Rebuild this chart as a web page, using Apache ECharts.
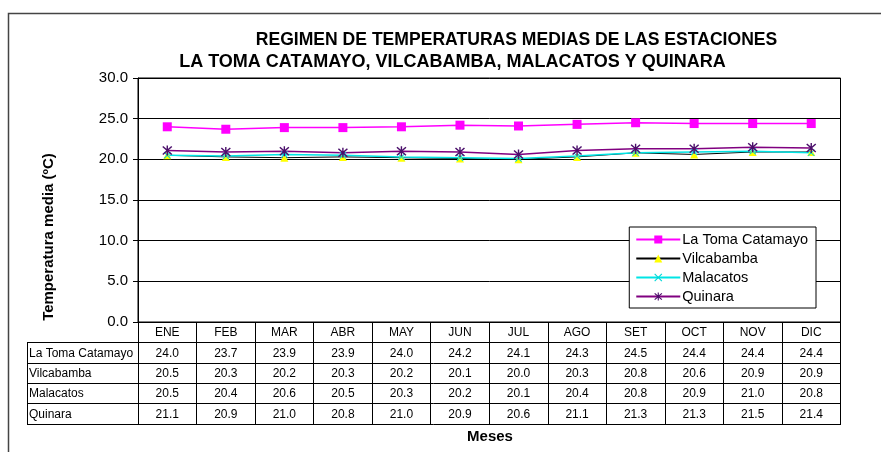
<!DOCTYPE html>
<html><head><meta charset="utf-8">
<script src="https://cdn.jsdelivr.net/npm/echarts@6/dist/echarts.min.js"></script>
<style>html,body{margin:0;padding:0;background:#fff}#c{width:881px;height:452px}</style>
</head><body><div id="c"></div>
<script>
var months = ['ENE','FEB','MAR','ABR','MAY','JUN','JUL','AGO','SET','OCT','NOV','DIC'];
var seriesNames = ['La Toma Catamayo','Vilcabamba','Malacatos','Quinara'];
var laToma     = [24.0,23.7,23.9,23.9,24.0,24.2,24.1,24.3,24.5,24.4,24.4,24.4];
var vilcabamba = [20.5,20.3,20.2,20.3,20.2,20.1,20.0,20.3,20.8,20.6,20.9,20.9];
var malacatos  = [20.5,20.4,20.6,20.5,20.3,20.2,20.1,20.4,20.8,20.9,21.0,20.8];
var quinara    = [21.1,20.9,21.0,20.8,21.0,20.9,20.6,21.1,21.3,21.3,21.5,21.4];
var yTicks = [0,5,10,15,20,25,30];

var allSeries = [laToma, vilcabamba, malacatos, quinara];
var FONT = '"Liberation Sans", Arial, sans-serif';
var xPath = 'path://M0,1 L1,0 L5,4 L9,0 L10,1 L6,5 L10,9 L9,10 L5,6 L1,10 L0,9 L4,5 Z';
var starPath = 'path://M0,1.5 L1,0.5 L5,4 L9,0.5 L10,1.5 L6,5 L10,8.5 L9,9.5 L5,6 L1,9.5 L0,8.5 L4,5 Z M4.3,0 L5.7,0 L5.7,10 L4.3,10 Z';

var chart = echarts.init(document.getElementById('c'));
var gridL = 138, gridR = 840.5, gridT = 78, gridB = 322;
var rowH = 20.3;
var graphics = [];
// outer frame
graphics.push({type:'polyline', shape:{points:[[8.5,460],[8.5,13.5],[890,13.5]]}, style:{stroke:'#444', lineWidth:1.5, fill:null}, silent:true});
// titles
graphics.push({type:'text', x:516.5, y:40, scaleX:0.976, style:{text:'REGIMEN DE TEMPERATURAS MEDIAS DE LAS ESTACIONES', font:'bold 18px '+FONT, fill:'#000', textAlign:'center', textVerticalAlign:'middle'}});
graphics.push({type:'text', x:452.5, y:62, style:{text:'LA TOMA CATAMAYO, VILCABAMBA, MALACATOS Y QUINARA', font:'bold 18px '+FONT, fill:'#000', textAlign:'center', textVerticalAlign:'middle'}});
// axis titles
graphics.push({type:'text', x:49, y:237, rotation:Math.PI/2, style:{text:'Temperatura media (ºC)', font:'bold 15px '+FONT, fill:'#000', textAlign:'center', textVerticalAlign:'middle'}});
graphics.push({type:'text', x:490, y:437, style:{text:'Meses', font:'bold 15px '+FONT, fill:'#000', textAlign:'center', textVerticalAlign:'middle'}});
// table horizontal lines
for (var r = 1; r <= 5; r++) {
  var yy = Math.round(gridB + r*rowH) + 0.5;
  graphics.push({type:'line', shape:{x1:27, y1:yy, x2:gridR, y2:yy}, style:{stroke:'#000', lineWidth:1}, silent:true});
}
graphics.push({type:'line', shape:{x1:27.5, y1:Math.round(gridB+rowH)+0.5, x2:27.5, y2:Math.round(gridB+5*rowH)+0.5}, style:{stroke:'#000', lineWidth:1}, silent:true});
seriesNames.forEach(function(n, i){
  graphics.push({type:'text', x:29, y:gridB + (i+1.5)*rowH + 1, style:{text:n, font:'12px '+FONT, fill:'#000', textAlign:'left', textVerticalAlign:'middle'}});
});

var option = {
  animation:false,
  backgroundColor:'#fff',
  grid:{left:gridL, right:881-gridR, top:gridT, bottom:452-gridB, show:true, borderColor:'#000', borderWidth:1, backgroundColor:'transparent'},
  legend:{
    orient:'vertical', right:65, top:227, itemWidth:44, itemHeight:10, itemGap:4,
    backgroundColor:'#fff', borderColor:'#000', borderWidth:1, padding:[5,8,4,6],
    textStyle:{fontFamily:FONT, fontSize:14.5, color:'#000', padding:[0,0,0,-3]},
    data:seriesNames
  },
  xAxis:{
    type:'category', data:months, boundaryGap:true,
    axisLine:{lineStyle:{color:'#000', width:1}},
    axisTick:{show:true, interval:0, length:Math.round(5*rowH)+1, lineStyle:{color:'#000'}},
    axisLabel:{interval:0, margin:1, fontFamily:FONT, fontSize:12, color:'#000', lineHeight:rowH,
      formatter:function(v, i){ var lines=[v]; allSeries.forEach(function(s){lines.push(s[i].toFixed(1));}); return lines.join('\n'); }}
  },
  yAxis:{
    type:'value', min:yTicks[0], max:yTicks[yTicks.length-1], interval:5,
    axisLine:{show:true, lineStyle:{color:'#000'}},
    axisTick:{show:true, length:5, lineStyle:{color:'#000'}},
    splitLine:{show:true, lineStyle:{color:'#000', width:1}},
    axisLabel:{fontFamily:FONT, fontSize:15, color:'#000', margin:10, formatter:function(v){return v.toFixed(1);}}
  },
  series:[
    {name:seriesNames[0], type:'line', data:laToma, symbol:'rect', symbolSize:9,
      lineStyle:{color:'#ff00ff', width:1.5}, itemStyle:{color:'#ff00ff'}},
    {name:seriesNames[1], type:'line', data:vilcabamba, symbol:'triangle', symbolSize:8,
      lineStyle:{color:'#000', width:1}, itemStyle:{color:'#ffff00'}},
    {name:seriesNames[2], type:'line', data:malacatos, symbol:xPath, symbolSize:7,
      lineStyle:{color:'#00e5e5', width:1.5}, itemStyle:{color:'#00d8d8'}},
    {name:seriesNames[3], type:'line', data:quinara, symbol:starPath, symbolSize:10,
      lineStyle:{color:'#800080', width:1.5}, itemStyle:{color:'#4b0f6b'}}
  ],
  graphic:graphics
};
chart.setOption(option);
</script></body></html>
